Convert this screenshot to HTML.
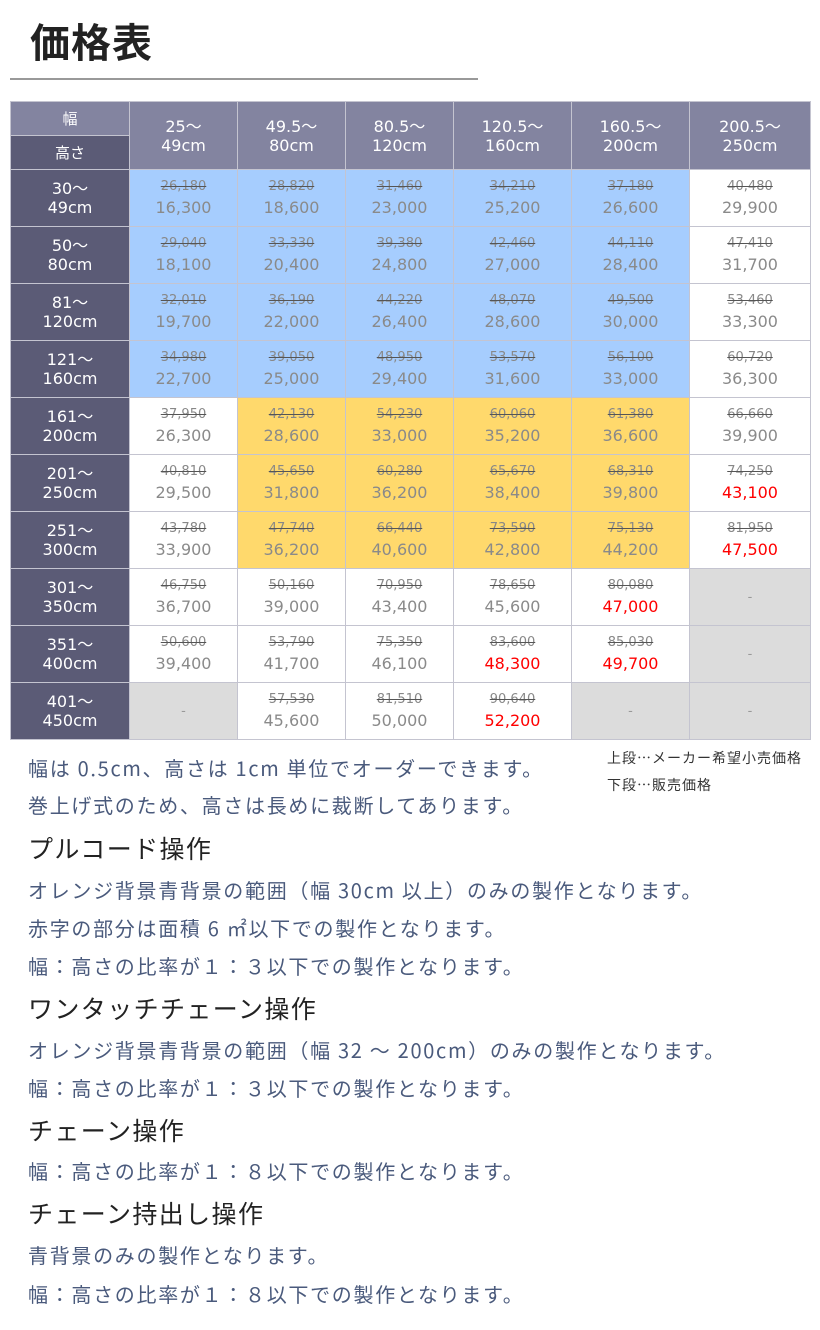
<!DOCTYPE html>
<html><head><meta charset="utf-8">
<style>
html,body{margin:0;padding:0;background:#fff;width:820px;height:1330px;overflow:hidden;position:relative;font-family:"Noto Sans CJK JP",sans-serif;}
.title{position:absolute;left:30px;top:14px;font-size:40px;font-weight:bold;color:#222;line-height:52px;letter-spacing:1px;}
.rule{position:absolute;left:10px;top:78px;width:468px;height:2px;background:#999;}
table{position:absolute;left:10px;top:101px;border-collapse:collapse;table-layout:fixed;width:800px;}
td{border:1px solid #c4c4d0;padding:0;text-align:center;vertical-align:middle;font-family:"DejaVu Sans","Noto Sans CJK JP",sans-serif;}
tr.d td{height:56px;}
.hl{background:#8384a0;color:#fff;font-size:15px;height:33px;font-family:"Noto Sans CJK JP",sans-serif;}
.hd{background:#5b5b76;color:#fff;font-size:15px;height:33px;font-family:"Noto Sans CJK JP",sans-serif;}
.hc{background:#8384a0;color:#fff;font-size:16px;line-height:19px;}
.rl{background:#5b5b76;color:#fff;font-size:16px;line-height:19px;}
.b{background:#a6cdfe;}
.y{background:#ffd96c;}
.w{background:#fff;}
.g{background:#dcdcdc;color:#999;font-size:13px;}
.s{display:block;font-size:13px;color:#888;text-decoration:line-through;text-decoration-color:#555;line-height:18px;margin-top:2px;}
.p{display:block;font-size:16px;color:#8a8a8a;line-height:24px;}
.r{color:#ff0000;}
.t{position:absolute;left:28px;font-size:20px;color:#4a5a7c;white-space:nowrap;line-height:28px;letter-spacing:1.7px;}
.h{position:absolute;left:28px;font-size:25px;color:#222;white-space:nowrap;line-height:32px;letter-spacing:1.4px;}
.lg{position:absolute;left:607px;font-size:14px;color:#333;white-space:nowrap;line-height:20px;letter-spacing:1px;}
</style></head><body>
<div class="title">価格表</div>
<div class="rule"></div>
<table>
<colgroup><col style="width:119px"><col style="width:108px"><col style="width:108px"><col style="width:108px"><col style="width:118px"><col style="width:118px"><col style="width:121px"></colgroup>
<tr><td class="hl">幅</td><td class="hc" rowspan="2">25～<br>49cm</td><td class="hc" rowspan="2">49.5～<br>80cm</td><td class="hc" rowspan="2">80.5～<br>120cm</td><td class="hc" rowspan="2">120.5～<br>160cm</td><td class="hc" rowspan="2">160.5～<br>200cm</td><td class="hc" rowspan="2">200.5～<br>250cm</td></tr>
<tr><td class="hd">高さ</td></tr>
<tr class="d"><td class="rl">30～<br>49cm</td><td class="b"><span class="s">26,180</span><span class="p">16,300</span></td><td class="b"><span class="s">28,820</span><span class="p">18,600</span></td><td class="b"><span class="s">31,460</span><span class="p">23,000</span></td><td class="b"><span class="s">34,210</span><span class="p">25,200</span></td><td class="b"><span class="s">37,180</span><span class="p">26,600</span></td><td class="w"><span class="s">40,480</span><span class="p">29,900</span></td></tr>
<tr class="d"><td class="rl">50～<br>80cm</td><td class="b"><span class="s">29,040</span><span class="p">18,100</span></td><td class="b"><span class="s">33,330</span><span class="p">20,400</span></td><td class="b"><span class="s">39,380</span><span class="p">24,800</span></td><td class="b"><span class="s">42,460</span><span class="p">27,000</span></td><td class="b"><span class="s">44,110</span><span class="p">28,400</span></td><td class="w"><span class="s">47,410</span><span class="p">31,700</span></td></tr>
<tr class="d"><td class="rl">81～<br>120cm</td><td class="b"><span class="s">32,010</span><span class="p">19,700</span></td><td class="b"><span class="s">36,190</span><span class="p">22,000</span></td><td class="b"><span class="s">44,220</span><span class="p">26,400</span></td><td class="b"><span class="s">48,070</span><span class="p">28,600</span></td><td class="b"><span class="s">49,500</span><span class="p">30,000</span></td><td class="w"><span class="s">53,460</span><span class="p">33,300</span></td></tr>
<tr class="d"><td class="rl">121～<br>160cm</td><td class="b"><span class="s">34,980</span><span class="p">22,700</span></td><td class="b"><span class="s">39,050</span><span class="p">25,000</span></td><td class="b"><span class="s">48,950</span><span class="p">29,400</span></td><td class="b"><span class="s">53,570</span><span class="p">31,600</span></td><td class="b"><span class="s">56,100</span><span class="p">33,000</span></td><td class="w"><span class="s">60,720</span><span class="p">36,300</span></td></tr>
<tr class="d"><td class="rl">161～<br>200cm</td><td class="w"><span class="s">37,950</span><span class="p">26,300</span></td><td class="y"><span class="s">42,130</span><span class="p">28,600</span></td><td class="y"><span class="s">54,230</span><span class="p">33,000</span></td><td class="y"><span class="s">60,060</span><span class="p">35,200</span></td><td class="y"><span class="s">61,380</span><span class="p">36,600</span></td><td class="w"><span class="s">66,660</span><span class="p">39,900</span></td></tr>
<tr class="d"><td class="rl">201～<br>250cm</td><td class="w"><span class="s">40,810</span><span class="p">29,500</span></td><td class="y"><span class="s">45,650</span><span class="p">31,800</span></td><td class="y"><span class="s">60,280</span><span class="p">36,200</span></td><td class="y"><span class="s">65,670</span><span class="p">38,400</span></td><td class="y"><span class="s">68,310</span><span class="p">39,800</span></td><td class="w"><span class="s">74,250</span><span class="p r">43,100</span></td></tr>
<tr class="d"><td class="rl">251～<br>300cm</td><td class="w"><span class="s">43,780</span><span class="p">33,900</span></td><td class="y"><span class="s">47,740</span><span class="p">36,200</span></td><td class="y"><span class="s">66,440</span><span class="p">40,600</span></td><td class="y"><span class="s">73,590</span><span class="p">42,800</span></td><td class="y"><span class="s">75,130</span><span class="p">44,200</span></td><td class="w"><span class="s">81,950</span><span class="p r">47,500</span></td></tr>
<tr class="d"><td class="rl">301～<br>350cm</td><td class="w"><span class="s">46,750</span><span class="p">36,700</span></td><td class="w"><span class="s">50,160</span><span class="p">39,000</span></td><td class="w"><span class="s">70,950</span><span class="p">43,400</span></td><td class="w"><span class="s">78,650</span><span class="p">45,600</span></td><td class="w"><span class="s">80,080</span><span class="p r">47,000</span></td><td class="g">-</td></tr>
<tr class="d"><td class="rl">351～<br>400cm</td><td class="w"><span class="s">50,600</span><span class="p">39,400</span></td><td class="w"><span class="s">53,790</span><span class="p">41,700</span></td><td class="w"><span class="s">75,350</span><span class="p">46,100</span></td><td class="w"><span class="s">83,600</span><span class="p r">48,300</span></td><td class="w"><span class="s">85,030</span><span class="p r">49,700</span></td><td class="g">-</td></tr>
<tr class="d"><td class="rl">401～<br>450cm</td><td class="g">-</td><td class="w"><span class="s">57,530</span><span class="p">45,600</span></td><td class="w"><span class="s">81,510</span><span class="p">50,000</span></td><td class="w"><span class="s">90,640</span><span class="p r">52,200</span></td><td class="g">-</td><td class="g">-</td></tr>
</table>
<div class="lg" style="top:748px">上段…メーカー希望小売価格</div>
<div class="lg" style="top:775px">下段…販売価格</div>
<div class="t" style="top:754px">幅は 0.5cm、高さは 1cm 単位でオーダーできます。</div>
<div class="t" style="top:791px">巻上げ式のため、高さは長めに裁断してあります。</div>
<div class="h" style="top:832px">プルコード操作</div>
<div class="t" style="top:876px">オレンジ背景青背景の範囲（幅 30cm 以上）のみの製作となります。</div>
<div class="t" style="top:914px">赤字の部分は面積 6 ㎡以下での製作となります。</div>
<div class="t" style="top:952px">幅：高さの比率が１：３以下での製作となります。</div>
<div class="h" style="top:992px">ワンタッチチェーン操作</div>
<div class="t" style="top:1036px">オレンジ背景青背景の範囲（幅 32 ～ 200cm）のみの製作となります。</div>
<div class="t" style="top:1074px">幅：高さの比率が１：３以下での製作となります。</div>
<div class="h" style="top:1114px">チェーン操作</div>
<div class="t" style="top:1157px">幅：高さの比率が１：８以下での製作となります。</div>
<div class="h" style="top:1197px">チェーン持出し操作</div>
<div class="t" style="top:1241px">青背景のみの製作となります。</div>
<div class="t" style="top:1280px">幅：高さの比率が１：８以下での製作となります。</div>
</body></html>
